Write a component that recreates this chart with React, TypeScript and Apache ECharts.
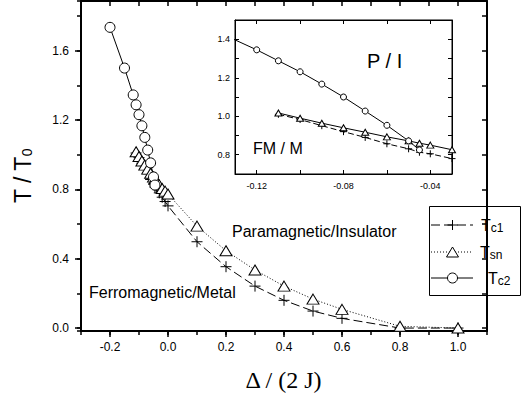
import React, { useEffect, useRef } from "react";
import * as echarts from "echarts";

const tc1X = [-0.11, -0.1, -0.09, -0.08, -0.07, -0.06, -0.05, -0.045, -0.04, -0.03, -0.02, -0.01, 0.0, 0.1, 0.2, 0.3, 0.4, 0.5, 0.6, 0.8, 1.0];
const tc1Y = [1.01, 0.983, 0.951, 0.92, 0.89, 0.857, 0.831, 0.813, 0.805, 0.78, 0.755, 0.73, 0.705, 0.498, 0.354, 0.242, 0.16, 0.098, 0.056, 0.0, 0.0];
const tsnX = [-0.11, -0.1, -0.09, -0.08, -0.07, -0.06, -0.05, -0.045, -0.04, -0.03, -0.02, -0.01, 0.0, 0.1, 0.2, 0.3, 0.4, 0.5, 0.6, 0.8, 1.0];
const tsnY = [1.017, 0.99, 0.964, 0.94, 0.917, 0.893, 0.872, 0.86, 0.85, 0.826, 0.805, 0.79, 0.773, 0.588, 0.446, 0.335, 0.242, 0.167, 0.108, 0.01, 0.0];
const tc2X = [-0.2, -0.15, -0.12, -0.11, -0.1, -0.09, -0.08, -0.07, -0.06, -0.05, -0.045];
const tc2Y = [1.735, 1.5, 1.345, 1.288, 1.231, 1.167, 1.1, 1.027, 0.953, 0.872, 0.825];

// axis ranges and tick steps
const mainX = { min: -0.3, max: 1.1, major: 0.2, minor: 0.1 };
const mainY = { min: -0.017, max: 1.887, major: 0.4, minor: 0.2 };
const insetX = { min: -0.13, max: -0.03, major: 0.04, minor: 0.02 };
const insetY = { min: 0.7, max: 1.5, major: 0.2, minor: 0.1 };

const FONT = "'Liberation Sans', Arial, sans-serif";
const PLUS = "path://M0,5L10,5M5,0L5,10";

const zip = (xs: number[], ys: number[]) => xs.map((x, i) => [x, ys[i]]);

export default function App() {
  const ref = useRef<HTMLDivElement>(null);
  useEffect(() => {
    if (!ref.current) return;
    const chart = echarts.init(ref.current, null, { renderer: "svg" });

    const axis = (
      grid: number,
      r: { min: number; max: number },
      step: number,
      position: string,
      o: { line?: number; label?: { size: number; margin: number; dec: number }; tickLen: number; tickW?: number; inside: boolean }
    ) => ({
      type: "value",
      gridIndex: grid,
      min: r.min,
      max: r.max,
      minInterval: step,
      maxInterval: step,
      splitNumber: Math.round((r.max - r.min) / step),
      position,
      axisLine: o.line ? { show: true, onZero: false, lineStyle: { color: "#000", width: o.line } } : { show: false, onZero: false },
      axisLabel: o.label
        ? {
            show: true,
            color: "#000",
            fontFamily: FONT,
            fontSize: o.label.size,
            margin: o.label.margin,
            showMinLabel: false,
            showMaxLabel: false,
            formatter: (v: number) => {
              const k = v / step;
              return Math.abs(k - Math.round(k)) < 1e-6 ? Number(v).toFixed(o.label!.dec) : "";
            },
          }
        : { show: false },
      axisTick: { show: true, inside: o.inside, length: o.tickLen, lineStyle: { color: "#000", width: o.tickW || 1 } },
      splitLine: { show: false },
    });

    const mkSeries = (name: string, xs: number[], ys: number[], xi: number, yi: number, symbol: string, size: any, ltype: any) => ({
      type: "line",
      name,
      xAxisIndex: xi,
      yAxisIndex: yi,
      data: zip(xs, ys),
      symbol,
      symbolSize: size,
      showAllSymbol: true,
      lineStyle: { color: "#000", width: 1, type: ltype },
      itemStyle: { color: symbol === PLUS ? "none" : "#fff", borderColor: "#000", borderWidth: 1 },
      emphasis: { disabled: true },
    });

    const legText = (t: string, sub: string, x: number, y: number) => ({
      type: "text",
      x,
      y,
      style: {
        text: `{a|${t}}{b|${sub}}`,
        verticalAlign: "middle",
        rich: {
          a: { fontSize: 16, fontFamily: FONT, fill: "#000" },
          b: { fontSize: 12, fontFamily: FONT, fill: "#000", padding: [5, 0, 0, 0] },
        },
      },
    });

    chart.setOption({
      animation: false,
      backgroundColor: "#fff",
      grid: [
        { left: 81, right: 42, top: 1, bottom: 65 },
        { left: 235, right: 77, top: 20, bottom: 222, show: true, backgroundColor: "#fff", borderColor: "#000", borderWidth: 1 },
      ],
      xAxis: [
        axis(0, mainX, mainX.major, "bottom", { line: 2, label: { size: 12, margin: 10, dec: 1 }, tickLen: 6, tickW: 1.5, inside: false }),
        axis(0, mainX, mainX.minor, "bottom", { tickLen: 4, tickW: 1.5, inside: false }),
        axis(0, mainX, mainX.minor, "top", { line: 2, tickLen: 5, tickW: 1.5, inside: true }),
        axis(1, insetX, insetX.major, "bottom", { line: 1, label: { size: 9, margin: 7, dec: 2 }, tickLen: 4, inside: true }),
        axis(1, insetX, insetX.minor, "top", { line: 1, tickLen: 4, inside: true }),
        axis(1, insetX, insetX.minor, "bottom", { tickLen: 4, inside: true }),
      ],
      yAxis: [
        axis(0, mainY, mainY.major, "left", { line: 2, label: { size: 12, margin: 12, dec: 1 }, tickLen: 6, tickW: 1.5, inside: false }),
        axis(0, mainY, mainY.minor, "left", { tickLen: 4, tickW: 1.5, inside: false }),
        axis(0, mainY, mainY.minor, "right", { line: 2, tickLen: 5, tickW: 1.5, inside: true }),
        axis(1, insetY, insetY.major, "left", { line: 1, label: { size: 9, margin: 5, dec: 1 }, tickLen: 4, inside: true }),
        axis(1, insetY, insetY.minor, "right", { line: 1, tickLen: 4, inside: true }),
        axis(1, insetY, insetY.minor, "left", { tickLen: 4, inside: true }),
      ],
      series: [
        mkSeries("Tc1", tc1X, tc1Y, 0, 0, PLUS, 11, [9, 4]),
        mkSeries("Tsn", tsnX, tsnY, 0, 0, "triangle", [12, 10], [1, 2]),
        mkSeries("Tc2", tc2X, tc2Y, 0, 0, "circle", 10, "solid"),
        mkSeries("Tc1i", tc1X, tc1Y, 3, 3, PLUS, 7, [6, 3]),
        mkSeries("Tsni", tsnX, tsnY, 3, 3, "triangle", [7, 6], "solid"),
        mkSeries("Tc2i", tc2X, tc2Y, 3, 3, "circle", 6, "solid"),
      ],
      graphic: [
        { type: "text", left: 232, top: 223, style: { text: "Paramagnetic/Insulator", font: `16px ${FONT}`, fill: "#000" } },
        { type: "text", left: 89, top: 284, style: { text: "Ferromagnetic/Metal", font: `16px ${FONT}`, fill: "#000" } },
        { type: "text", left: 367, top: 51, style: { text: "P / I", font: `20px ${FONT}`, fill: "#000" } },
        { type: "text", left: 253, top: 140, style: { text: "FM / M", font: `16px ${FONT}`, fill: "#000" } },
        {
          type: "text", x: 283.5, y: 380,
          style: { text: "Δ / (2 J)", font: "24px 'Liberation Serif', 'Times New Roman', serif", fill: "#000", align: "center", verticalAlign: "middle" },
        },
        {
          type: "text", x: 23, y: 176, rotation: Math.PI / 2,
          style: {
            text: "{a|T / T}{b|0}", align: "center", verticalAlign: "middle",
            rich: { a: { fontSize: 23, fontFamily: FONT, fill: "#000" }, b: { fontSize: 14, fontFamily: FONT, fill: "#000", padding: [8, 0, 0, 0] } },
          },
        },
        {
          type: "group", z: 100,
          children: [
            { type: "rect", shape: { x: 429.5, y: 206.5, width: 91, height: 89 }, style: { fill: "#fff", stroke: "#000", lineWidth: 1 } },
            { type: "line", shape: { x1: 431, y1: 225, x2: 473, y2: 225 }, style: { stroke: "#000", lineWidth: 1, lineDash: [9, 4] } },
            { type: "line", shape: { x1: 447.5, y1: 225, x2: 457.5, y2: 225 }, style: { stroke: "#000", lineWidth: 1 } },
            { type: "line", shape: { x1: 452.5, y1: 220, x2: 452.5, y2: 230 }, style: { stroke: "#000", lineWidth: 1 } },
            { type: "line", shape: { x1: 431, y1: 252, x2: 473, y2: 252 }, style: { stroke: "#000", lineWidth: 1, lineDash: [1, 2] } },
            { type: "polygon", shape: { points: [[446.5, 257], [458.5, 257], [452.5, 247]] }, style: { fill: "#fff", stroke: "#000", lineWidth: 1 } },
            { type: "line", shape: { x1: 431, y1: 278, x2: 473, y2: 278 }, style: { stroke: "#000", lineWidth: 1 } },
            { type: "circle", shape: { cx: 452.5, cy: 278, r: 5 }, style: { fill: "#fff", stroke: "#000", lineWidth: 1 } },
            legText("T", "c1", 481, 225),
            legText("T", "sn", 480, 252),
            legText("T", "c2", 488, 278),
          ],
        },
      ],
    });
    return () => chart.dispose();
  }, []);
  return <div ref={ref} style={{ width: 529, height: 396, position: "absolute", left: 0, top: 0 }} />;
}
